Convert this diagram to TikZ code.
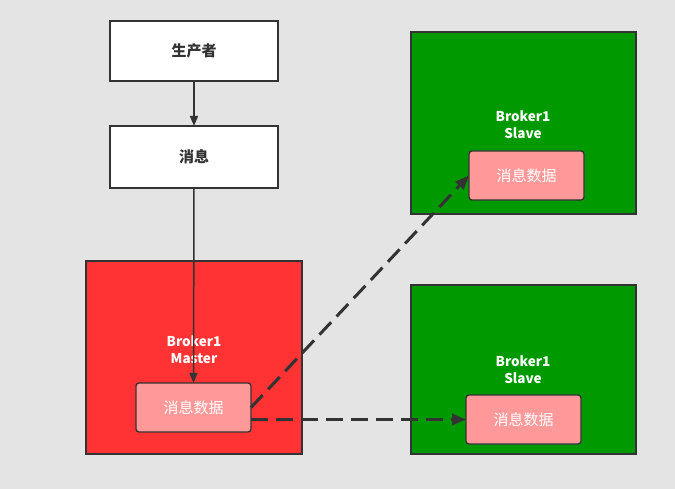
\documentclass[tikz,border=0pt]{standalone}
\usepackage{fontspec}
\newfontfamily\cjk{Noto Sans CJK SC}
\usetikzlibrary{arrows.meta}
\definecolor{bg}{HTML}{E4E4E4}
\definecolor{edge}{HTML}{333333}
\definecolor{mred}{HTML}{FF3333}
\definecolor{sgreen}{HTML}{009900}
\definecolor{dpink}{HTML}{FF9999}
\tikzset{
  wbox/.style={draw=edge, line width=1.3pt, fill=white, inner sep=0pt, outer sep=0pt, font=\cjk\bfseries\fontsize{15}{18}\selectfont, text=edge},
  broker/.style={draw=edge, line width=1.3pt, inner sep=0pt, outer sep=0pt},
  blabel/.style={align=center, font=\cjk\bfseries\fontsize{13.5}{17}\selectfont, text=white, inner sep=0pt},
  databox/.style={draw=edge, line width=1.3pt, fill=dpink, rounded corners=3pt, inner sep=0pt, outer sep=0pt, minimum width=115pt, minimum height=49pt, font=\cjk\fontsize{15}{18}\selectfont, text=white},
  solidarrow/.style={draw=edge, line width=1.5pt, -{Triangle[length=10pt,width=8pt]}},
  dasharrow/.style={draw=edge, line width=3pt, dash pattern=on 17pt off 8pt, -{Triangle[length=14pt,width=11pt]}}
}
\begin{document}
\begin{tikzpicture}[x=1pt, y=-1pt]
\fill[bg] (0,0) rectangle (675,489);
\useasboundingbox (0,0) rectangle (675,489);
% producer & message
\node[wbox, minimum width=168pt, minimum height=60pt] (prod) at (194,51) {生产者};
\node[wbox, minimum width=168pt, minimum height=62pt] (msg) at (194,157) {消息};
% master
\node[broker, fill=mred, minimum width=216pt, minimum height=193pt] (master) at (194,357.5) {};
\node[blabel] (mlabel) at (194,349.5) {Broker1\\Master};
\node[databox] (mdata) at (193.5,407.5) {消息数据};
% slave 1
\node[broker, fill=sgreen, minimum width=225pt, minimum height=182pt] (slave1) at (523.5,123) {};
\node[blabel] (s1label) at (523,124.5) {Broker1\\Slave};
\node[databox] (s1data) at (526.5,175.5) {消息数据};
% slave 2
\node[broker, fill=sgreen, minimum width=225pt, minimum height=169pt] (slave2) at (523.5,369.5) {};
\node[blabel] (s2label) at (523,370) {Broker1\\Slave};
\node[databox] (s2data) at (523.5,419.5) {消息数据};
% connectors
\draw[solidarrow] (prod.south) -- (msg.north);
\draw[solidarrow] (msg.south) -- (mdata.north);
\draw[dasharrow] (mdata.east) -- (s1data.west);
\draw[dasharrow] (mdata.east |- s2data.west) -- (s2data.west);
\end{tikzpicture}
\end{document}
